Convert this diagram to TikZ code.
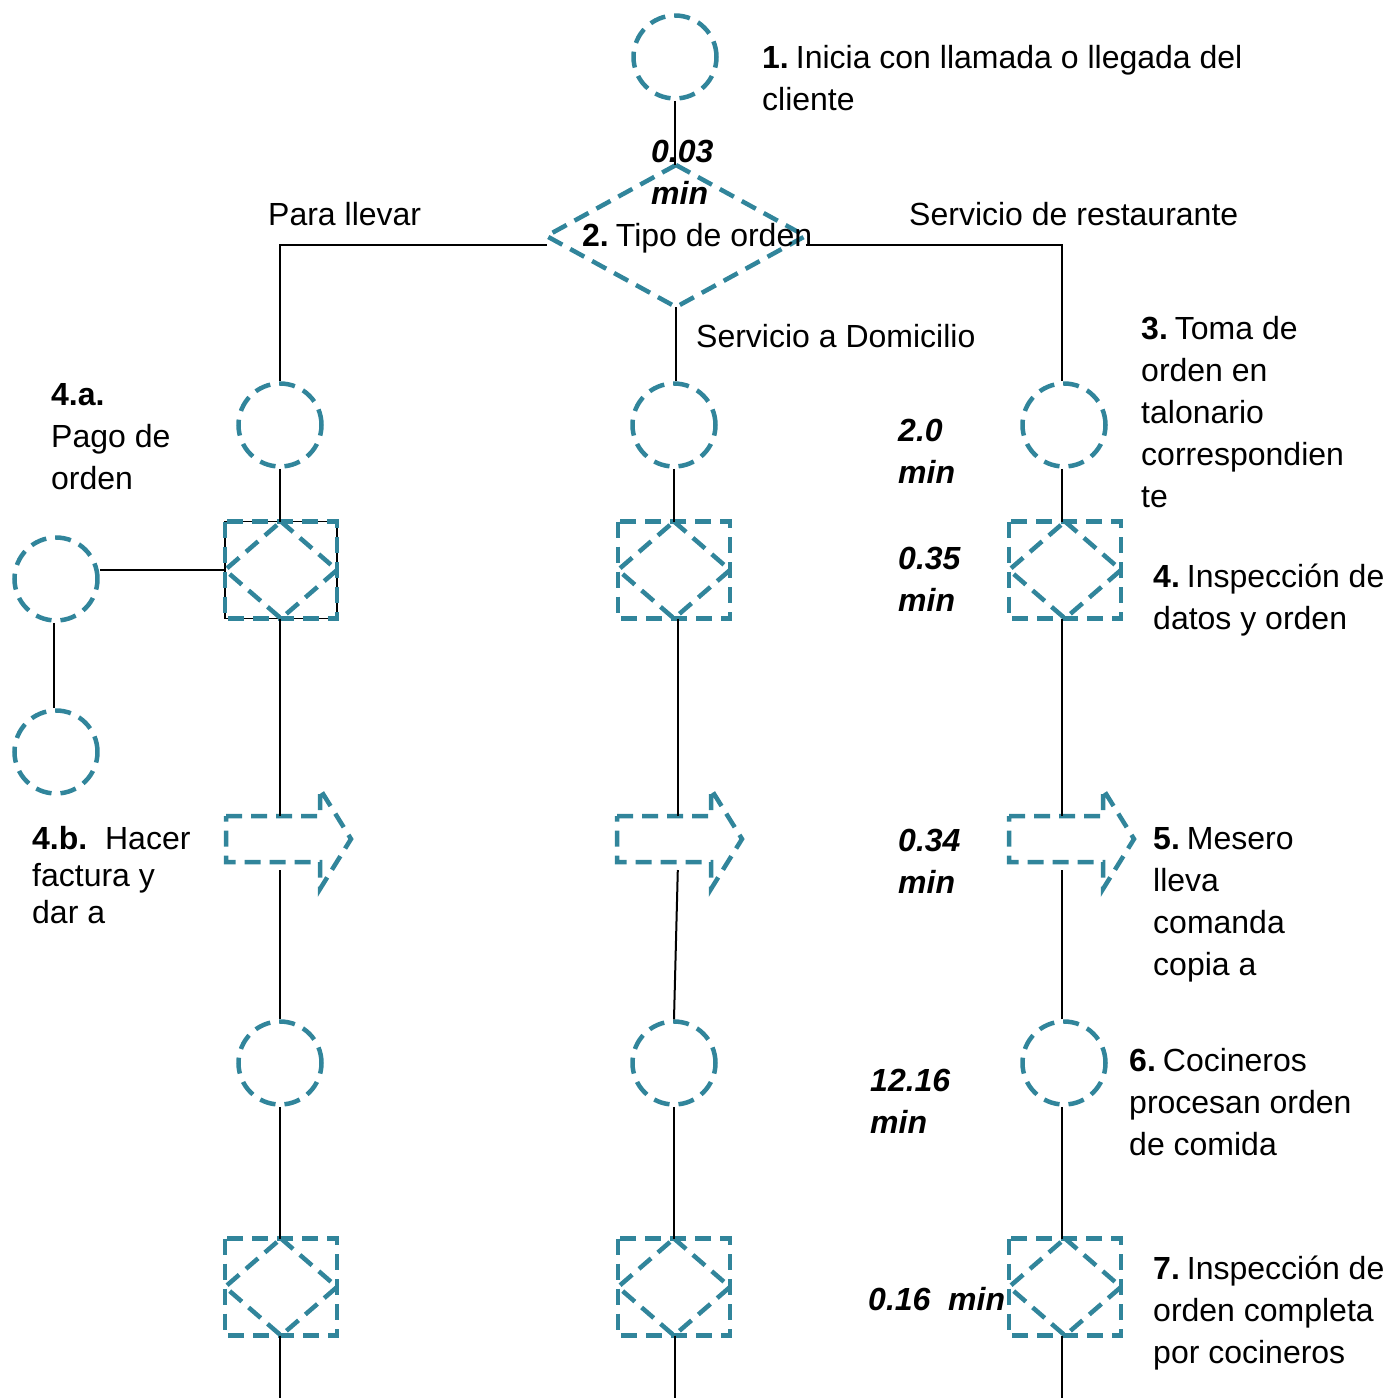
\documentclass[tikz,border=0pt]{standalone}
\usepackage{fontspec}
\setmainfont{Liberation Sans}
\definecolor{flowteal}{RGB}{49,133,155}

% inspection: dashed square with a dashed diamond inside
\newcommand{\inspbox}[2]{%
  \node[frame] (#1) at (#2) {};
  \draw[outline] (#1.north west) rectangle (#1.south east);
  \draw[outline] (#1.north) -- (#1.east) -- (#1.south) -- (#1.west) -- cycle;}
% transport: dashed block arrow pointing right
\newcommand{\transp}[2]{%
  \node[body] (#1) at (#2) {};
  \draw[outline] (#1.north west) -- (#1.north east) -- ++(0,-27)
    -- ([xshift=31pt]#1.east) -- ([yshift=-27pt]#1.south east)
    -- (#1.south east) -- (#1.south west) -- cycle;}

\begin{document}
\begin{tikzpicture}[x=1pt,y=-1pt,
  outline/.style={draw=flowteal, line width=4.5pt, dash pattern=on 16pt off 9pt},
  proc/.style={outline, circle, minimum size=83pt, inner sep=0pt},
  frame/.style={minimum width=112pt, minimum height=97pt, inner sep=0pt, outer sep=0pt},
  body/.style={minimum width=94pt, minimum height=46pt, inner sep=0pt, outer sep=0pt},
  link/.style={draw=black, line width=2pt},
  % multi-line labels are anchored at the baseline of their last line
  lbl/.style={anchor=base west, inner sep=0pt, align=left, font=\fontsize{32}{42}\selectfont},
  tm/.style={lbl, font=\fontsize{32}{42}\selectfont\bfseries\itshape},
]
\useasboundingbox (0,0) rectangle (1391,1398);

% ---- symbols ----
\node[proc] (c1) at (675,57) {};
\node[minimum width=259pt, minimum height=142pt, inner sep=0pt, outer sep=0pt] (d2) at (676,236) {};
\draw[outline] (d2.north) -- (d2.east) -- (d2.south) -- (d2.west) -- cycle;

\node[proc] (cL1) at (280,425) {};
\node[proc] (cM1) at (674,425) {};
\node[proc] (cR1) at (1064,425) {};

\node[frame] (bL1f) at (281,570) {};
\draw[black, line width=1.3pt] (bL1f.north west) rectangle (bL1f.south east);
\inspbox{bL1}{281,570}
\inspbox{bM1}{674,570}
\inspbox{bR1}{1065,570}

\node[proc] (cS1) at (56,579) {};
\node[proc] (cS2) at (56,752) {};

\transp{aL}{273,839}
\transp{aM}{664,839}
\transp{aR}{1056,839}

\node[proc] (cL2) at (280,1063) {};
\node[proc] (cM2) at (674,1063) {};
\node[proc] (cR2) at (1064,1063) {};

\inspbox{bL2}{281,1287}
\inspbox{bM2}{674,1287}
\inspbox{bR2}{1065,1287}

\coordinate (eL) at (280,1398);
\coordinate (eM) at (675,1398);
\coordinate (eR) at (1062,1398);

% ---- lines ----
\draw[link] (c1) -- (c1.south |- d2.north);
\draw[link] ([yshift=-9pt]d2.west) -| (cL1.north);
\draw[link] ([yshift=-9pt]d2.east) -| ([xshift=-2pt]cR1.north);
\draw[link] (d2.south) -- (d2.south |- cM1.north);

% take-away column
\draw[link] (cL1.south) -- (cL1.south |- bL1.north);
\draw[link] (cL1.south |- bL1.south) -- (cL1.south |- aL.north);
\draw[link, shorten >=8pt] (cL2.north) -- (cL2.north |- aL.south);
\draw[link] (cL2.south) -- (cL2.south |- bL2.north);
\draw[link] (cL2.south |- bL2.south) -- (eL);

% home delivery column
\draw[link] (cM1.south) -- (cM1.south |- bM1.north);
\draw[link] ([xshift=4pt]bM1.south) -- ([xshift=4pt]bM1.south |- aM.north);
\draw[link, shorten >=8pt] (cM2.north) -- ([xshift=4pt]cM2.north |- aM.south);
\draw[link] (cM2.south) -- (cM2.south |- bM2.north);
\draw[link] (eM |- bM2.south) -- (eM);

% restaurant column
\draw[link] ([xshift=-2pt]cR1.south) -- ([xshift=-2pt]cR1.south |- bR1.north);
\draw[link] ([xshift=-2pt]cR1.south |- bR1.south) -- ([xshift=-2pt]cR1.south |- aR.north);
\draw[link, shorten >=8pt] ([xshift=-2pt]cR2.north) -- ([xshift=-2pt]cR2.north |- aR.south);
\draw[link] ([xshift=-2pt]cR2.south) -- ([xshift=-2pt]cR2.south |- bR2.north);
\draw[link] ([xshift=-2pt]cR2.south |- bR2.south) -- (eR);

% payment branch
\draw[link] (bL1.west) -- (bL1.west -| cS1.east);
\draw[link] ([xshift=-2pt]cS1.south) -- ([xshift=-2pt]cS2.north);

% ---- labels ----
\node[lbl] (t1) at (762,110) {\textbf{1.}\hspace{7pt}Inicia con llamada o llegada del\\cliente};
\node[tm] (m1) at (651,204) {0.03\\min};
\node[lbl] (t2) at (582,246) {\textbf{2.}\hspace{7pt}Tipo de orden};
\node[lbl] (tpl) at (268,225) {Para llevar};
\node[lbl] (tsr) at (909,225) {Servicio de restaurante};
\node[lbl] (tsd) at (696,347) {Servicio a Domicilio};
\node[lbl] (t3) at (1141,507) {\textbf{3.}\hspace{7pt}Toma de\\orden en\\talonario\\correspondien\\te};
\node[lbl] (t4a) at (51,489) {\textbf{4.a.}\\Pago de\\orden};
\node[tm] (m2) at (898,483) {2.0\\min};
\node[tm] (m3) at (898,611) {0.35\\min};
\node[lbl] (t4) at (1153,629) {\textbf{4.}\hspace{7pt}Inspección de\\datos y orden};
\node[lbl, font=\fontsize{32}{37}\selectfont] (t4b) at (32,923) {\textbf{4.b.}\ \ Hacer\\factura y\\dar a};
\node[tm] (m4) at (898,893) {0.34\\min};
\node[lbl] (t5) at (1153,975) {\textbf{5.}\hspace{7pt}Mesero\\lleva\\comanda\\copia a};
\node[tm] (m5) at (870,1133) {12.16\\min};
\node[lbl] (t6) at (1129,1155) {\textbf{6.}\hspace{7pt}Cocineros\\procesan orden\\de comida};
\node[tm] (m6) at (868,1310) {0.16\ \ min};
\node[lbl] (t7) at (1153,1363) {\textbf{7.}\hspace{7pt}Inspección de\\orden completa\\por cocineros};
\end{tikzpicture}
\end{document}
